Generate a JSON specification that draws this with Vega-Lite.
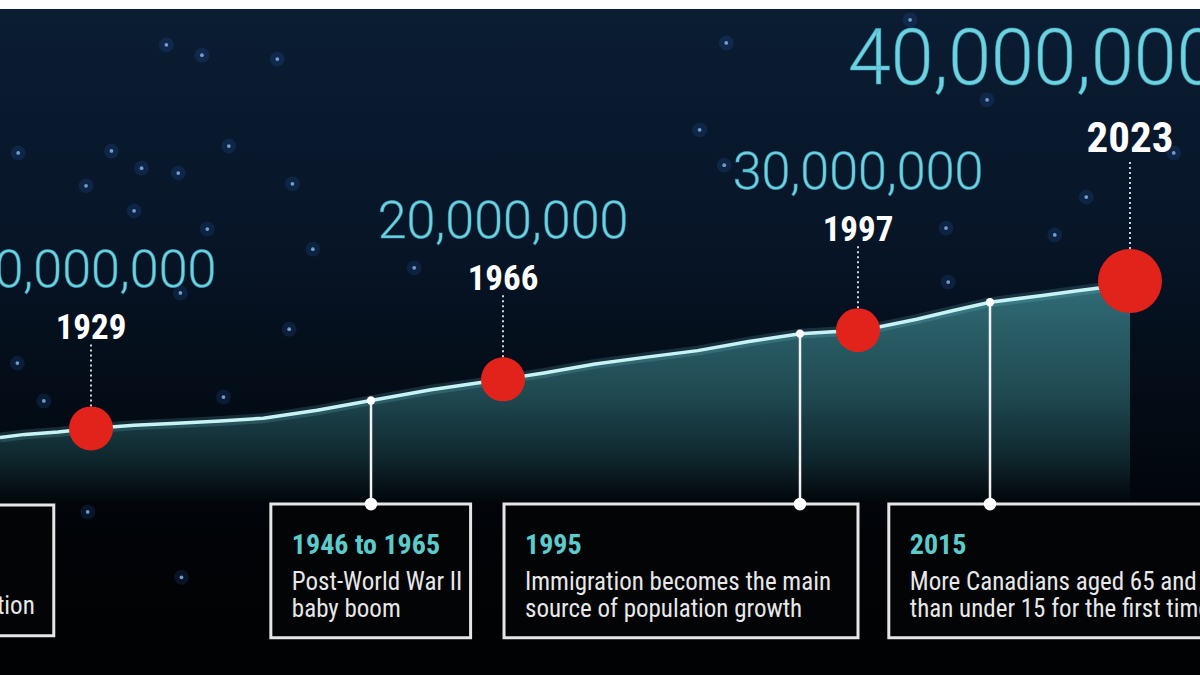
{
  "$schema": "https://vega.github.io/schema/vega-lite/v6.json",
  "width": 1200,
  "height": 666,
  "autosize": "none",
  "padding": {"top": 9, "left": 0, "right": 0, "bottom": 0},
  "background": "#ffffff",
  "config": {"view": {"stroke": null}, "axis": {"disable": true}},
  "datasets": {
    "line": [
      {"year": 1918, "pop": 8.15}, {"year": 1921, "pop": 8.79}, {"year": 1925, "pop": 9.29},
      {"year": 1929, "pop": 10.0}, {"year": 1933, "pop": 10.63}, {"year": 1937, "pop": 11.05},
      {"year": 1941, "pop": 11.51}, {"year": 1945, "pop": 12.07}, {"year": 1950, "pop": 13.71},
      {"year": 1955, "pop": 15.7}, {"year": 1960, "pop": 17.87}, {"year": 1966, "pop": 20.0},
      {"year": 1970, "pop": 21.3}, {"year": 1975, "pop": 23.14}, {"year": 1980, "pop": 24.52},
      {"year": 1985, "pop": 25.84}, {"year": 1990, "pop": 27.69}, {"year": 1995, "pop": 29.3},
      {"year": 1997, "pop": 30.0}, {"year": 2000, "pop": 30.69}, {"year": 2005, "pop": 32.24},
      {"year": 2010, "pop": 34.01}, {"year": 2015, "pop": 35.7}, {"year": 2018, "pop": 37.07},
      {"year": 2020, "pop": 38.04}, {"year": 2022, "pop": 38.94}, {"year": 2023, "pop": 40.0}
    ],
    "milestones": [
      {"year": 1929, "pop": 10, "label": "1929", "number": "10,000,000"},
      {"year": 1966, "pop": 20, "label": "1966", "number": "20,000,000"},
      {"year": 1997, "pop": 30, "label": "1997", "number": "30,000,000"},
      {"year": 2023, "pop": 40, "label": "2023", "number": "40,000,000"}
    ],
    "events": [
      {"year": 1955, "pop": 15.7, "title": "1946 to 1965", "line1": "Post-World War II", "line2": "baby boom", "start": 1945.7, "end": 1963.3},
      {"year": 1995, "pop": 29.3, "title": "1995", "line1": "Immigration becomes the main", "line2": "source of population growth", "start": 1966.1, "end": 1997},
      {"year": 2015, "pop": 35.7, "title": "2015", "line1": "More Canadians aged 65 and older", "line2": "than under 15 for the first time", "start": 2001.2, "end": 2033}
    ],
    "earlier": [
      {"line2": "immigration", "start": 1900, "end": 1924.5}
    ],
    "stars": [
      {"year": 1936.0, "pop": 88.1}, {"year": 1939.3, "pop": 86.0}, {"year": 1946.3, "pop": 85.2},
      {"year": 1920.2, "pop": 66.1}, {"year": 1930.9, "pop": 66.5}, {"year": 1933.7, "pop": 63.0},
      {"year": 1937.1, "pop": 62.0}, {"year": 1941.8, "pop": 67.5}, {"year": 1947.7, "pop": 59.8},
      {"year": 1928.4, "pop": 59.4}, {"year": 1933.0, "pop": 54.3}, {"year": 1939.8, "pop": 50.6},
      {"year": 1949.6, "pop": 46.5}, {"year": 1958.6, "pop": 42.7}, {"year": 1937.3, "pop": 37.6},
      {"year": 1947.4, "pop": 30.2}, {"year": 1920.1, "pop": 23.3}, {"year": 1923.3, "pop": 15.6},
      {"year": 1941.3, "pop": 16.4}, {"year": 1987.8, "pop": 88.5}, {"year": 1985.2, "pop": 70.8},
      {"year": 2004.1, "pop": 93.2}, {"year": 2014.6, "pop": 76.9}, {"year": 2028.0, "pop": 66.1},
      {"year": 2020.5, "pop": 57.1}, {"year": 2018.7, "pop": 49.4}, {"year": 2009.0, "pop": 50.8},
      {"year": 2009.3, "pop": 39.8}, {"year": 1987.6, "pop": 63.6}, {"year": 1928.6, "pop": -7.0},
      {"year": 1937.4, "pop": -20.3}
    ]
  },
  "layer": [
    {
      "data": {"values": [{}]},
      "mark": {"type": "rect", "fill": {"gradient": "linear", "x1": 0, "y1": 0, "x2": 0, "y2": 1,
        "stops": [{"offset": 0, "color": "#0b1d33"}, {"offset": 0.35, "color": "#071527"}, {"offset": 0.62, "color": "#030b14"}, {"offset": 0.8, "color": "#010306"}, {"offset": 1, "color": "#010203"}]}},
      "encoding": {}
    },
    {
      "data": {"name": "stars"},
      "mark": {"type": "point", "filled": true, "color": "#2f6fd6", "opacity": 0.16, "size": 220},
      "encoding": {
        "x": {"field": "year", "type": "quantitative", "axis": null, "scale": {"type": "linear", "domain": [1918, 1929, 1955, 1966, 1995, 1997, 2015, 2023, 2031], "range": [0, 91, 371, 503, 800, 858, 990, 1130, 1200], "zero": false, "nice": false}},
        "y": {"field": "pop", "type": "quantitative", "axis": null, "scale": {"domain": [-40.2, 95.4], "zero": false, "nice": false}}
      }
    },
    {
      "data": {"name": "stars"},
      "mark": {"type": "point", "filled": true, "color": "#8cbcf2", "opacity": 0.8, "size": 14},
      "encoding": {
        "x": {"field": "year", "type": "quantitative"},
        "y": {"field": "pop", "type": "quantitative"}
      }
    },
    {
      "data": {"name": "line"},
      "mark": {"type": "area", "fill": {"gradient": "linear", "x1": 0, "y1": 0, "x2": 0, "y2": 1,
        "stops": [{"offset": 0, "color": "#316d77"}, {"offset": 0.5, "color": "#204a52"}, {"offset": 0.8, "color": "#0f272e"}, {"offset": 1, "color": "#02060a"}]}},
      "encoding": {
        "x": {"field": "year", "type": "quantitative"},
        "y": {"field": "pop", "type": "quantitative"},
        "y2": {"datum": -5}
      }
    },
    {
      "data": {"name": "line"},
      "mark": {"type": "line", "color": "#7fdcea", "strokeWidth": 10, "opacity": 0.16},
      "encoding": {
        "x": {"field": "year", "type": "quantitative"},
        "y": {"field": "pop", "type": "quantitative"}
      }
    },
    {
      "data": {"name": "line"},
      "mark": {"type": "line", "color": "#c8f3f5", "strokeWidth": 3.5},
      "encoding": {
        "x": {"field": "year", "type": "quantitative"},
        "y": {"field": "pop", "type": "quantitative"}
      }
    },
    {
      "data": {"name": "events"},
      "mark": {"type": "rule", "color": "#f2f2f2", "strokeWidth": 2.5},
      "encoding": {
        "x": {"field": "year", "type": "quantitative"},
        "y": {"field": "pop", "type": "quantitative"},
        "y2": {"datum": -5.4}
      }
    },
    {
      "data": {"name": "events"},
      "mark": {"type": "point", "filled": true, "color": "#ffffff", "opacity": 1, "size": 70},
      "encoding": {
        "x": {"field": "year", "type": "quantitative"},
        "y": {"field": "pop", "type": "quantitative"}
      }
    },
    {
      "data": {"name": "events"},
      "mark": {"type": "rect", "fill": "#020406", "stroke": "#e6e6e6", "strokeWidth": 3, "clip": true},
      "encoding": {
        "x": {"field": "start", "type": "quantitative"},
        "x2": {"field": "end"},
        "y": {"datum": -5.4},
        "y2": {"datum": -32.6}
      }
    },
    {
      "data": {"name": "earlier"},
      "mark": {"type": "rect", "fill": "#020406", "stroke": "#e6e6e6", "strokeWidth": 3, "clip": true},
      "encoding": {
        "x": {"field": "start", "type": "quantitative"},
        "x2": {"field": "end"},
        "y": {"datum": -5.6},
        "y2": {"datum": -32.2}
      }
    },
    {
      "data": {"name": "events"},
      "mark": {"type": "point", "filled": true, "color": "#ffffff", "opacity": 1, "size": 160},
      "encoding": {
        "x": {"field": "year", "type": "quantitative"},
        "y": {"datum": -5.4}
      }
    },
    {
      "data": {"name": "events"},
      "mark": {"type": "text", "align": "left", "baseline": "alphabetic", "dx": 21, "font": "Roboto Condensed, Open Sans Condensed, DejaVu Sans Condensed, sans-serif", "fontWeight": "bold", "fontSize": 28, "fill": "#5ccbcc", "clip": true},
      "encoding": {
        "x": {"field": "start", "type": "quantitative"},
        "y": {"datum": -15.6},
        "text": {"field": "title"}
      }
    },
    {
      "data": {"name": "events"},
      "mark": {"type": "text", "align": "left", "baseline": "alphabetic", "dx": 21, "font": "Roboto Condensed, Open Sans Condensed, DejaVu Sans Condensed, sans-serif", "fontSize": 25, "fill": "#e8e8e8", "clip": true},
      "encoding": {
        "x": {"field": "start", "type": "quantitative"},
        "y": {"datum": -22.9},
        "text": {"field": "line1"}
      }
    },
    {
      "data": {"name": "events"},
      "mark": {"type": "text", "align": "left", "baseline": "alphabetic", "dx": 21, "font": "Roboto Condensed, Open Sans Condensed, DejaVu Sans Condensed, sans-serif", "fontSize": 25, "fill": "#e8e8e8", "clip": true},
      "encoding": {
        "x": {"field": "start", "type": "quantitative"},
        "y": {"datum": -28.4},
        "text": {"field": "line2"}
      }
    },
    {
      "data": {"name": "earlier"},
      "mark": {"type": "text", "align": "right", "baseline": "alphabetic", "dx": -19, "font": "Roboto Condensed, Open Sans Condensed, DejaVu Sans Condensed, sans-serif", "fontSize": 25, "fill": "#e8e8e8", "clip": true},
      "encoding": {
        "x": {"field": "end", "type": "quantitative"},
        "y": {"datum": -27.8},
        "text": {"field": "line2"}
      }
    },
    {
      "data": {"name": "milestones"},
      "transform": [{"filter": "datum.year < 2023"}],
      "mark": {"type": "rule", "color": "#cfd6da", "strokeWidth": 2, "strokeDash": [2, 3], "yOffset": -22, "y2Offset": -85},
      "encoding": {
        "x": {"field": "year", "type": "quantitative"},
        "y": {"field": "pop", "type": "quantitative"},
        "y2": {"field": "pop"}
      }
    },
    {
      "data": {"name": "milestones"},
      "transform": [{"filter": "datum.year == 2023"}],
      "mark": {"type": "rule", "color": "#cfd6da", "strokeWidth": 2, "strokeDash": [2, 3], "yOffset": -32, "y2Offset": -121},
      "encoding": {
        "x": {"field": "year", "type": "quantitative"},
        "y": {"field": "pop", "type": "quantitative"},
        "y2": {"field": "pop"}
      }
    },
    {
      "data": {"name": "milestones"},
      "mark": {"type": "point", "filled": true, "color": "#e2231c", "opacity": 1},
      "encoding": {
        "x": {"field": "year", "type": "quantitative"},
        "y": {"field": "pop", "type": "quantitative"},
        "size": {"condition": {"test": "datum.year == 2023", "value": 4100}, "value": 1940}
      }
    },
    {
      "data": {"name": "milestones"},
      "transform": [{"filter": "datum.year < 2023"}],
      "mark": {"type": "text", "align": "center", "baseline": "middle", "dy": -100, "font": "Roboto Condensed, Open Sans Condensed, DejaVu Sans Condensed, sans-serif", "fontWeight": "bold", "fontSize": 35, "fill": "#ffffff"},
      "encoding": {
        "x": {"field": "year", "type": "quantitative"},
        "y": {"field": "pop", "type": "quantitative"},
        "text": {"field": "label"}
      }
    },
    {
      "data": {"name": "milestones"},
      "transform": [{"filter": "datum.year == 2023"}],
      "mark": {"type": "text", "align": "center", "baseline": "middle", "dy": -142, "font": "Roboto Condensed, Open Sans Condensed, DejaVu Sans Condensed, sans-serif", "fontWeight": "bold", "fontSize": 43, "fill": "#ffffff"},
      "encoding": {
        "x": {"field": "year", "type": "quantitative"},
        "y": {"field": "pop", "type": "quantitative"},
        "text": {"field": "label"}
      }
    },
    {
      "data": {"name": "milestones"},
      "transform": [{"filter": "datum.year < 2023"}],
      "mark": {"type": "text", "align": "center", "baseline": "middle", "dy": -157, "font": "Roboto, sans-serif", "fontWeight": 300, "fontSize": 52, "fill": "#6fd3df", "stroke": "#3aa6c4", "strokeWidth": 1, "strokeOpacity": 0.5, "clip": true},
      "encoding": {
        "x": {"field": "year", "type": "quantitative"},
        "y": {"field": "pop", "type": "quantitative"},
        "text": {"field": "number"}
      }
    },
    {
      "data": {"name": "milestones"},
      "transform": [{"filter": "datum.year == 2023"}],
      "mark": {"type": "text", "align": "left", "baseline": "middle", "dx": -282, "dy": -220, "font": "Roboto, sans-serif", "fontWeight": 300, "fontSize": 77, "fill": "#6fd3df", "stroke": "#3aa6c4", "strokeWidth": 1, "strokeOpacity": 0.5, "clip": true},
      "encoding": {
        "x": {"field": "year", "type": "quantitative"},
        "y": {"field": "pop", "type": "quantitative"},
        "text": {"field": "number"}
      }
    }
  ]
}
